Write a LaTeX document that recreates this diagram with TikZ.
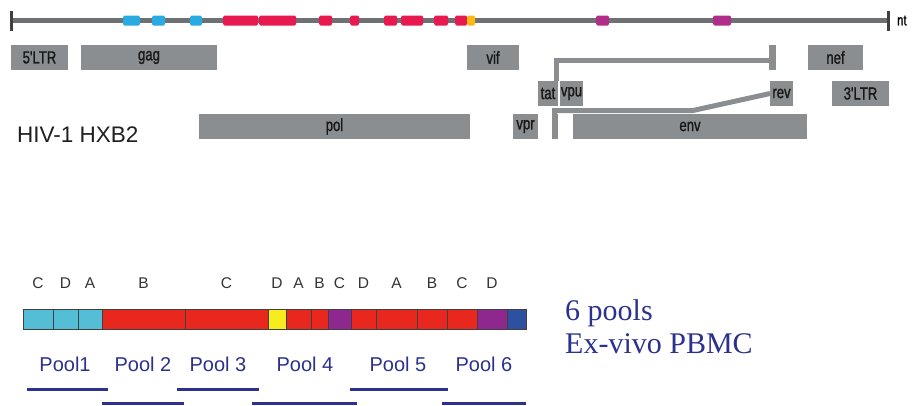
\documentclass[tikz,border=0pt]{standalone}
\usepackage{fontspec}
\setmainfont{Liberation Sans}
\newfontfamily\genefont[FakeStretch=0.75, FakeBold=1.2]{Liberation Sans}
\newfontfamily\notefont{Liberation Serif}
\usetikzlibrary{positioning, calc}

\newcommand\setfs[1]{\fontsize{#1}{#1}\selectfont}

\definecolor{genegray}{RGB}{138,142,145}
\definecolor{linegray}{RGB}{110,112,115}
\definecolor{tickgray}{RGB}{64,64,66}
\definecolor{genetext}{RGB}{24,24,24}
\definecolor{segblue}{RGB}{41,171,226}
\definecolor{segred}{RGB}{232,25,78}
\definecolor{segyellow}{RGB}{253,185,19}
\definecolor{segmag}{RGB}{176,46,138}
\definecolor{cellcyan}{RGB}{84,190,214}
\definecolor{cellred}{RGB}{232,39,31}
\definecolor{cellyellow}{RGB}{246,236,30}
\definecolor{cellpurple}{RGB}{142,40,142}
\definecolor{cellblue}{RGB}{46,80,160}
\definecolor{poolblue}{RGB}{43,49,140}

\begin{document}
\begin{tikzpicture}[
				x=1pt, y=-1pt,
				gene/.style={rectangle, fill=genegray, inner sep=0pt, outer sep=0pt, minimum height=25pt, text=genetext, font=\genefont\setfs{17.5}},
				genome/.style={line width=5pt, draw=linegray},
				nttick/.style={line width=3pt, draw=tickgray},
				link/.style={line width=5pt, draw=genegray},
				cell/.style={rectangle, draw=black!75, line width=0.8pt, inner sep=0pt, minimum height=20pt},
				letter/.style={inner sep=0pt, text=black!80, font=\setfs{15.5}},
				pool/.style={inner sep=0pt, text=poolblue, font=\setfs{20}},
				poolbar/.style={line width=3pt, draw=poolblue},
				note/.style={inner sep=0pt, align=left, text=poolblue, font=\notefont\fontsize{30}{33}\selectfont}
			]

			\useasboundingbox (0,0) rectangle (912,405);

			% Genome axis
			\coordinate (nt0) at (11.5,20.5);
			\coordinate (nt1) at (888,20.5);
			\draw[genome] (nt0) -- (nt1);
			\draw[nttick] ([yshift=10pt]nt0) -- ([yshift=-10pt]nt0);
			\draw[nttick] ([yshift=10pt]nt1) -- ([yshift=-10pt]nt1);
			\node[inner sep=0pt, anchor=west, font=\genefont\setfs{15}, right=9pt of nt1] (ntlab) {nt};
			\foreach \a/\b/\c in {123/140/segblue, 152/165/segblue, 190/202/segblue,
					223/258/segred, 259/296/segred, 319/332/segred, 350/359/segred,
					384/397/segred, 401/423/segred, 434/448/segred, 455/467/segred,
					467/475/segyellow, 596/609/segmag, 713/731/segmag}
				\fill[\c, rounded corners=1.5pt] (\a,15.5) rectangle (\b,25.5);

			% Open reading frames
			\node[gene, minimum width=57pt] (ltr5) at (39.5,57.5) {5'LTR};
			\node[gene, minimum width=136pt] (gag) at (149,57.5) {gag};
			\node[gene, minimum width=52pt] (vif) at (493,57.5) {vif};
			\node[gene, minimum width=7pt] (tatex) at (772.5,57.5) {};
			\node[gene, minimum width=55pt] (nef) at (835.5,57.5) {nef};
			\node[gene, minimum width=20pt] (tat) at (548,93.5) {tat};
			\node[gene, minimum width=23pt, right=2pt of tat] (vpu) {vpu};
			\node[gene, minimum width=23pt] (rev) at (781.5,93.5) {rev};
			\node[gene, minimum width=57pt] (ltr3) at (860.5,93.5) {3'LTR};
			\node[gene, minimum width=271pt] (pol) at (334.5,126.5) {pol};
			\node[gene, minimum width=25pt] (vpr) at (525.5,126.5) {vpr};
			\node[gene, minimum width=6pt] (revex) at (554.5,126.5) {};
			\node[gene, minimum width=234pt] (env) at (690,126.5) {env};
			\draw[link] ([yshift=-3pt]tatex.west) -| ([xshift=-1.5pt]tat.north east);
			\draw[link] (rev.west) -- ++(-77,17) -| (revex.north);
			\node[anchor=base west, inner sep=0pt, text=black!88, font=\setfs{22.5}] (strain) at (17,142) {HIV-1 HXB2};

			% Peptide pools along the genome
			\foreach \a/\b/\c/\l [count=\i] in {23/53/cellcyan/C, 53/78/cellcyan/D, 78/102/cellcyan/A,
					102/185/cellred/B, 185/268/cellred/C, 268/286/cellyellow/D, 286/311/cellred/A,
					311/328/cellred/B, 328/351/cellpurple/C, 351/376/cellred/D, 376/417/cellred/A,
					417/447/cellred/B, 447/477/cellred/C, 477/507/cellpurple/D, 507/526/cellblue/{}}
			{
				\node[cell, fill=\c, minimum width={(\b-\a)*1pt}] (cell\i) at ({(\a+\b)/2},319) {};
				\node[letter] (lt\i) at ({(\a+\b)/2},283) {\l};
			}
			\foreach \t/\x [count=\i] in {Pool1/65, Pool 2/143, Pool 3/218, Pool 4/305, Pool 5/398, Pool 6/484}
				\node[pool] (pool\i) at (\x,364) {\t};
			\foreach \a/\b/\y in {27/108/389, 102/184/403, 177/259/389, 252/357/403, 350/448/389, 442/526/403}
				\draw[poolbar] (\a,\y) -- (\b,\y);
			\node[note, anchor=base west] (note) at (565,353) {6 pools\\Ex-vivo PBMC};

		\end{tikzpicture}
\end{document}
